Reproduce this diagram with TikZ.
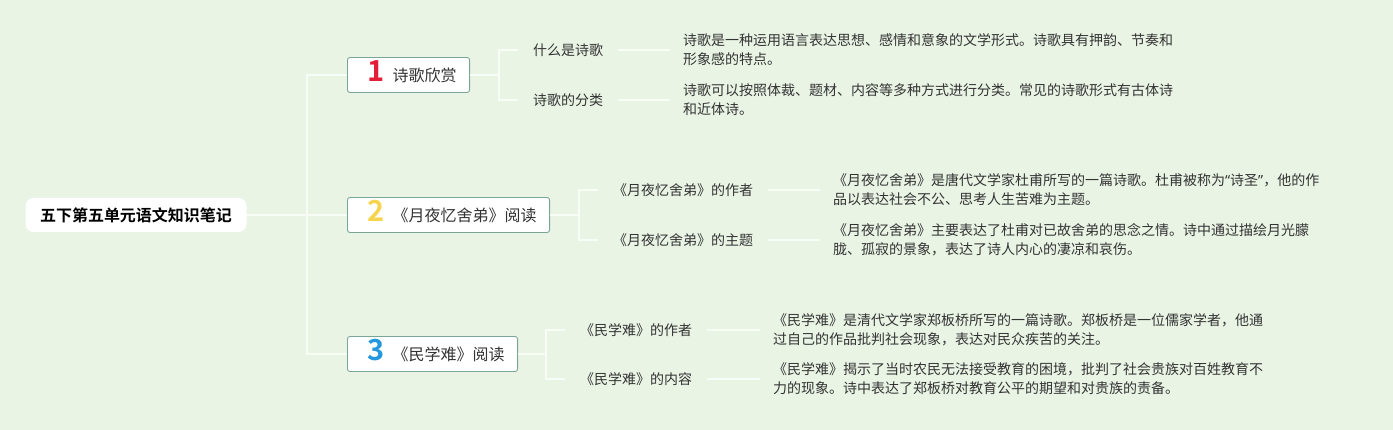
\documentclass[tikz,border=0pt]{standalone}
\usepackage{fontspec}
\setmainfont{Noto Sans CJK SC}[BoldFont={Noto Sans CJK SC Bold}]
\newfontfamily\quotefont{Noto Sans}
\usepackage{tikz}
\usepackage{xcolor}
\definecolor{bgmint}{RGB}{233,244,229}
\definecolor{branch}{RGB}{248,252,246}
\definecolor{boxline}{RGB}{122,166,152}
\definecolor{inktext}{RGB}{51,51,51}
\definecolor{numred}{RGB}{226,30,56}
\definecolor{numyellow}{RGB}{247,212,78}
\definecolor{numblue}{RGB}{36,152,222}
\newcommand{\topicno}[2]{\hspace*{7pt}{\color{#1}\fontsize{29}{29}\selectfont\bfseries\smash{#2}}\hspace{8pt}}

\begin{document}
\begin{tikzpicture}[x=1pt,y=-1pt,
  conn/.style={draw=branch,line width=1.8pt},
  rootbox/.style={fill=white,rounded corners=8pt,minimum width=221pt,minimum height=34pt,inner sep=0pt,font=\fontsize{16}{16}\selectfont\bfseries},
  topic/.style={fill=white,draw=boxline,line width=0.9pt,rounded corners=2.5pt,anchor=west,minimum height=35pt,inner xsep=13pt,inner ysep=0pt,font=\fontsize{16}{16}\selectfont,text=inktext},
  sub/.style={anchor=west,inner xsep=15pt,inner ysep=2pt,font=\fontsize{14}{14}\selectfont,text=inktext},
  note/.style={anchor=west,inner xsep=13pt,align=left,font=\fontsize{14}{19}\selectfont,text=inktext}]
  \useasboundingbox (0,0) rectangle (1393,430);
  \fill[bgmint] (0,0) rectangle (1393,430);

  % root and the three topics
  \node[rootbox] (root) at (136,215) {五下第五单元语文知识笔记};
  \node[topic] (poem) at (347,75) {\topicno{numred}{1}诗歌欣赏};
  \node[topic] (yueye) at (347,215) {\topicno{numyellow}{2}《月夜忆舍弟》阅读};
  \node[topic] (minxue) at (347,354) {\topicno{numblue}{3}《民学难》阅读};

  % sub topics
  \node[sub] (poemwhat) at (518,50) {什么是诗歌};
  \node[sub] (poemkind) at (518,100) {诗歌的分类};
  \node[sub] (yueyeauthor) at (598,190) {《月夜忆舍弟》的作者};
  \node[sub] (yueyetheme) at (598,240) {《月夜忆舍弟》的主题};
  \node[sub] (minxueauthor) at (565,330) {《民学难》的作者};
  \node[sub] (minxuecontent) at (565,379) {《民学难》的内容};

  % notes
  \node[note] (poemwhatnote) at (670,50) {诗歌是一种运用语言表达思想、感情和意象的文学形式。诗歌具有押韵、节奏和\\形象感的特点。};
  \node[note] (poemkindnote) at (670,100) {诗歌可以按照体裁、题材、内容等多种方式进行分类。常见的诗歌形式有古体诗\\和近体诗。};
  \node[note] (yueyeauthornote) at (820,190) {《月夜忆舍弟》是唐代文学家杜甫所写的一篇诗歌。杜甫被称为{\quotefont“}诗圣{\quotefont”}，他的作\\品以表达社会不公、思考人生苦难为主题。};
  \node[note] (yueyethemenote) at (820,240) {《月夜忆舍弟》主要表达了杜甫对已故舍弟的思念之情。诗中通过描绘月光朦\\胧、孤寂的景象，表达了诗人内心的凄凉和哀伤。};
  \node[note] (minxueauthornote) at (760,330) {《民学难》是清代文学家郑板桥所写的一篇诗歌。郑板桥是一位儒家学者，他通\\过自己的作品批判社会现象，表达对民众疾苦的关注。};
  \node[note] (minxuecontentnote) at (760,379) {《民学难》揭示了当时农民无法接受教育的困境，批判了社会贵族对百姓教育不\\力的现象。诗中表达了郑板桥对教育公平的期望和对贵族的责备。};

  % branches
  \coordinate (trunk) at (307,215);
  \foreach \t in {poem,yueye,minxue}
    \draw[conn] (root.east) -- (trunk) |- (\t.west);
  \coordinate (poemfork) at (499,75);
  \coordinate (yueyefork) at (579,215);
  \coordinate (minxuefork) at (546,354);
  \foreach \t/\a/\b in {poem/poemwhat/poemkind,yueye/yueyeauthor/yueyetheme,minxue/minxueauthor/minxuecontent}{
    \draw[conn] (\t.east) -- (\t fork) |- (\a.west);
    \draw[conn] (\t fork) |- (\b.west);
    \draw[conn] (\a.east) -- (\a note.west);
    \draw[conn] (\b.east) -- (\b note.west);
  }
\end{tikzpicture}
\end{document}
